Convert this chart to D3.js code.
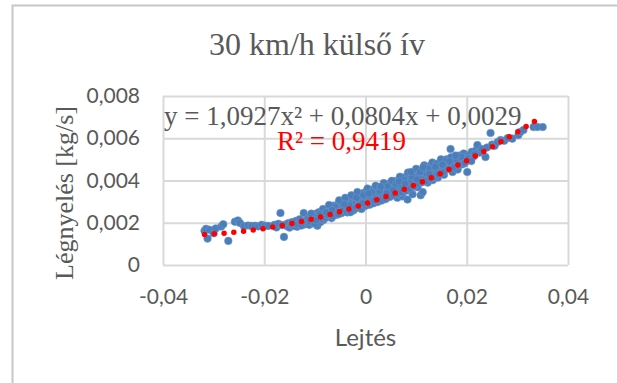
<!DOCTYPE html>
<html>
<head>
<meta charset="utf-8">
<script src="https://cdn.jsdelivr.net/npm/d3@7"></script>
<style>
    body { margin: 0; background: #fff; }
    #chart { width: 617px; height: 383px; overflow: hidden; }
</style>
</head>
<body>
<div id="chart"></div>
<script>
// tick values + labels (hungarian decimal comma)
var xTicks = [-0.04, -0.02, 0, 0.02, 0.04],
    xTickLabels = ["-0,04", "-0,02", "0", "0,02", "0,04"];
var yTicks = [0, 0.002, 0.004, 0.006, 0.008],
    yTickLabels = ["0", "0,002", "0,004", "0,006", "0,008"];

var chartTitle = "30 km/h külső ív",
    xTitle = "Lejtés",
    yTitle = "Légnyelés [kg/s]",
    eqText = "y = 1,0927x² + 0,0804x + 0,0029",
    r2Text = "R² = 0,9419";

// polynomial trendline from the chart label: a*x^2 + b*x + c
var trendCoef = [1.0927, 0.0804, 0.0029];
var trendRange = [-0.0318, 0.0346];

// measured points [lejtés, légnyelés]
var points = [
    [-0.0318, 0.00162], [-0.0315, 0.00171], [-0.0312, 0.00125], [-0.0308, 0.00167], [-0.0300, 0.00150],
    [-0.0296, 0.00173], [-0.0285, 0.00182], [-0.0281, 0.00193], [-0.0271, 0.00114], [-0.0258, 0.00205],
    [-0.0252, 0.00211], [-0.0248, 0.00199], [-0.0240, 0.00184], [-0.0232, 0.00187], [-0.0225, 0.00185],
    [-0.0218, 0.00186], [-0.0212, 0.00183], [-0.0205, 0.00190], [-0.0198, 0.00186], [-0.0192, 0.00185],
    [-0.0180, 0.00190], [-0.0176, 0.00178], [-0.0172, 0.00195], [-0.0168, 0.00246], [-0.0165, 0.00188],
    [-0.0161, 0.00133], [-0.0158, 0.00192], [-0.0155, 0.00184], [-0.0152, 0.00198], [-0.0150, 0.00177],
    [-0.0147, 0.00191], [-0.0145, 0.00203], [-0.0142, 0.00185], [-0.0140, 0.00196], [-0.0137, 0.00209],
    [-0.0135, 0.00181], [-0.0133, 0.00192], [-0.0130, 0.00216], [-0.0128, 0.00198], [-0.0126, 0.00187],
    [-0.0122, 0.00246], [-0.0121, 0.00205], [-0.0119, 0.00193], [-0.0117, 0.00213], [-0.0115, 0.00200],
    [-0.0113, 0.00222], [-0.0111, 0.00190], [-0.0108, 0.00231], [-0.0106, 0.00212], [-0.0104, 0.00198],
    [-0.0101, 0.00226], [-0.0099, 0.00207], [-0.0097, 0.00244], [-0.0095, 0.00186], [-0.0093, 0.00219],
    [-0.0091, 0.00233], [-0.0089, 0.00203], [-0.0087, 0.00252], [-0.0085, 0.00228], [-0.0083, 0.00213],
    [-0.0081, 0.00240], [-0.0079, 0.00262], [-0.0077, 0.00226], [-0.0075, 0.00248], [-0.0073, 0.00271],
    [-0.0071, 0.00236], [-0.0069, 0.00255], [-0.0067, 0.00222], [-0.0065, 0.00266], [-0.0063, 0.00281],
    [-0.0061, 0.00247], [-0.0059, 0.00262], [-0.0057, 0.00238], [-0.0055, 0.00276], [-0.0053, 0.00292],
    [-0.0051, 0.00258], [-0.0049, 0.00270], [-0.0047, 0.00249], [-0.0045, 0.00284], [-0.0043, 0.00301],
    [-0.0041, 0.00266], [-0.0039, 0.00279], [-0.0037, 0.00258], [-0.0035, 0.00293], [-0.0033, 0.00312],
    [-0.0031, 0.00274], [-0.0029, 0.00288], [-0.0027, 0.00266], [-0.0025, 0.00301], [-0.0023, 0.00322],
    [-0.0021, 0.00283], [-0.0019, 0.00296], [-0.0017, 0.00274], [-0.0015, 0.00310], [-0.0013, 0.00333],
    [-0.0011, 0.00291], [-0.0009, 0.00305], [-0.0007, 0.00282], [-0.0005, 0.00318], [-0.0003, 0.00342],
    [-0.0001, 0.00299], [0.0001, 0.00313], [0.0003, 0.00291], [0.0005, 0.00326], [0.0007, 0.00351],
    [0.0009, 0.00308], [0.0011, 0.00322], [0.0013, 0.00300], [0.0015, 0.00336], [0.0017, 0.00360],
    [0.0019, 0.00317], [0.0021, 0.00331], [0.0023, 0.00308], [0.0025, 0.00345], [0.0027, 0.00368],
    [0.0029, 0.00326], [0.0031, 0.00340], [0.0033, 0.00316], [0.0035, 0.00355], [0.0037, 0.00378],
    [0.0039, 0.00334], [0.0041, 0.00350], [0.0043, 0.00325], [0.0045, 0.00364], [0.0047, 0.00386],
    [0.0049, 0.00344], [0.0051, 0.00360], [0.0053, 0.00334], [0.0055, 0.00374], [0.0057, 0.00397],
    [0.0059, 0.00353], [0.0061, 0.00370], [0.0063, 0.00318], [0.0065, 0.00384], [0.0067, 0.00406],
    [0.0069, 0.00362], [0.0071, 0.00380], [0.0073, 0.00325], [0.0075, 0.00394], [0.0077, 0.00415],
    [0.0079, 0.00372], [0.0081, 0.00390], [0.0083, 0.00310], [0.0085, 0.00404], [0.0087, 0.00426],
    [0.0089, 0.00382], [0.0091, 0.00400], [0.0093, 0.00335], [0.0095, 0.00414], [0.0097, 0.00436],
    [0.0099, 0.00392], [0.0101, 0.00411], [0.0103, 0.00368], [0.0105, 0.00425], [0.0107, 0.00446],
    [0.0109, 0.00330], [0.0111, 0.00421], [0.0113, 0.00345], [0.0115, 0.00436], [0.0117, 0.00457],
    [0.0119, 0.00413], [0.0121, 0.00432], [0.0123, 0.00390], [0.0125, 0.00447], [0.0127, 0.00468],
    [0.0129, 0.00424], [0.0131, 0.00443], [0.0133, 0.00402], [0.0135, 0.00458], [0.0137, 0.00478],
    [0.0139, 0.00436], [0.0141, 0.00455], [0.0143, 0.00414], [0.0145, 0.00470], [0.0148, 0.00488],
    [0.0150, 0.00448], [0.0153, 0.00466], [0.0155, 0.00427], [0.0158, 0.00481], [0.0160, 0.00500],
    [0.0162, 0.00459], [0.0165, 0.00477], [0.0168, 0.00549], [0.0170, 0.00492], [0.0172, 0.00440],
    [0.0175, 0.00471], [0.0177, 0.00505], [0.0180, 0.00488], [0.0182, 0.00452], [0.0185, 0.00518],
    [0.0188, 0.00496], [0.0191, 0.00476], [0.0194, 0.00528], [0.0197, 0.00508], [0.0201, 0.00440],
    [0.0204, 0.00520], [0.0207, 0.00497], [0.0210, 0.00536], [0.0214, 0.00515], [0.0218, 0.00542],
    [0.0221, 0.00568], [0.0225, 0.00532], [0.0230, 0.00549], [0.0237, 0.00511], [0.0240, 0.00556],
    [0.0247, 0.00625], [0.0250, 0.00570], [0.0255, 0.00564], [0.0261, 0.00582], [0.0267, 0.00592],
    [0.0274, 0.00588], [0.0281, 0.00601], [0.0290, 0.00598], [0.0302, 0.00615], [0.0306, 0.00630],
    [0.0312, 0.00639], [0.0332, 0.00653], [0.0340, 0.00653], [0.0350, 0.00653],
    // second pass over the dense middle of the cloud
    [-0.0110, 0.00205], [-0.0107, 0.00243], [-0.0103, 0.00214], [-0.0100, 0.00196], [-0.0096, 0.00229],
    [-0.0092, 0.00250], [-0.0088, 0.00218], [-0.0084, 0.00265], [-0.0080, 0.00222], [-0.0076, 0.00238],
    [-0.0072, 0.00284], [-0.0068, 0.00242], [-0.0064, 0.00232], [-0.0060, 0.00275], [-0.0056, 0.00252],
    [-0.0052, 0.00306], [-0.0048, 0.00245], [-0.0044, 0.00262], [-0.0040, 0.00318], [-0.0036, 0.00249],
    [-0.0032, 0.00282], [-0.0028, 0.00330], [-0.0024, 0.00258], [-0.0020, 0.00268], [-0.0016, 0.00345],
    [-0.0012, 0.00272], [-0.0008, 0.00265], [-0.0004, 0.00330], [0.0000, 0.00280], [0.0004, 0.00362],
    [0.0008, 0.00285], [0.0012, 0.00345], [0.0016, 0.00292], [0.0020, 0.00375], [0.0024, 0.00298],
    [0.0028, 0.00352], [0.0032, 0.00305], [0.0036, 0.00388], [0.0040, 0.00312], [0.0044, 0.00372],
    [0.0048, 0.00322], [0.0052, 0.00398], [0.0056, 0.00330], [0.0060, 0.00382], [0.0064, 0.00338],
    [0.0068, 0.00418], [0.0072, 0.00345], [0.0076, 0.00402], [0.0080, 0.00352], [0.0084, 0.00438],
    [0.0088, 0.00362], [0.0092, 0.00418], [0.0096, 0.00372], [0.0100, 0.00455], [0.0104, 0.00385],
    [0.0108, 0.00440], [0.0112, 0.00392], [0.0116, 0.00472], [0.0120, 0.00398], [0.0124, 0.00455],
    [0.0128, 0.00410], [0.0132, 0.00485], [0.0136, 0.00418], [0.0140, 0.00478], [0.0144, 0.00428],
    [0.0149, 0.00500], [0.0154, 0.00440], [0.0159, 0.00492], [0.0164, 0.00455], [0.0169, 0.00510],
    [0.0174, 0.00462], [0.0179, 0.00500], [0.0184, 0.00475], [0.0189, 0.00512], [0.0196, 0.00482],
    [0.0203, 0.00505], [0.0209, 0.00492], [0.0216, 0.00525],
    [-0.0098, 0.00212], [-0.0090, 0.00240], [-0.0078, 0.00250], [-0.0066, 0.00260], [-0.0054, 0.00240],
    [-0.0042, 0.00287], [-0.0030, 0.00250], [-0.0018, 0.00318], [-0.0006, 0.00292], [0.0006, 0.00338],
    [0.0018, 0.00305], [0.0030, 0.00370], [0.0042, 0.00340], [0.0054, 0.00355], [0.0066, 0.00395],
    [0.0078, 0.00385], [0.0090, 0.00440], [0.0102, 0.00405], [0.0114, 0.00462], [0.0126, 0.00430],
    [0.0138, 0.00465], [0.0152, 0.00475], [0.0166, 0.00490], [0.0178, 0.00518]
];

var width = 617,
    height = 383;

var svg = d3.select("#chart").append("svg")
    .attr("width", width)
    .attr("height", height);

// outer chart frame (runs off the right / bottom edge)
svg.append("rect")
    .attr("x", 12.5)
    .attr("y", 5.5)
    .attr("width", 640)
    .attr("height", 420)
    .attr("fill", "#fff")
    .attr("stroke", "#c8c8c8")
    .attr("stroke-width", 2);

// plot area
var plotLeft = 163, plotRight = 568, plotTop = 96, plotBottom = 265;

var xScale = d3.scaleLinear()
    .domain([-0.04, 0.04])
    .range([plotLeft, plotRight]);
var yScale = d3.scaleLinear()
    .domain([0, 0.008])
    .range([plotBottom, plotTop]);

var sans = "Lato, 'Open Sans', sans-serif",
    serif = "'Liberation Serif', 'DejaVu Serif', serif",
    textGrey = "#595959";

// x axis with vertical gridlines
var gx = svg.append("g")
    .attr("transform", "translate(0," + plotBottom + ")")
    .call(d3.axisBottom(xScale)
        .tickValues(xTicks)
        .tickFormat(function (d, i) { return xTickLabels[i]; })
        .tickSize(-(plotBottom - plotTop))
        .tickPadding(24));
gx.select(".domain").remove();
gx.selectAll("line").attr("stroke", "#d9d9d9").attr("stroke-width", 2);
gx.selectAll("text")
    .attr("font-family", sans)
    .attr("font-size", 21)
    .attr("fill", textGrey);

// y axis with horizontal gridlines
var gy = svg.append("g")
    .attr("transform", "translate(" + plotLeft + ",0)")
    .call(d3.axisLeft(yScale)
        .tickValues(yTicks)
        .tickFormat(function (d, i) { return yTickLabels[i]; })
        .tickSize(-(plotRight - plotLeft))
        .tickPadding(23));
gy.select(".domain").remove();
gy.selectAll("line").attr("stroke", "#d9d9d9").attr("stroke-width", 2);
gy.selectAll("text")
    .attr("font-family", sans)
    .attr("font-size", 21)
    .attr("fill", textGrey);

// scatter points
svg.append("g")
    .selectAll("circle")
    .data(points)
    .join("circle")
    .attr("cx", function (d) { return xScale(d[0]); })
    .attr("cy", function (d) { return yScale(d[1]); })
    .attr("r", 3.8)
    .attr("fill", "#4a7ebb")
    .attr("stroke", "#6b95c8")
    .attr("stroke-width", 0.6);

// dotted polynomial trendline
var trendData = d3.range(trendRange[0], trendRange[1] + 0.00001, 0.0005).map(function (x) {
    return [x, trendCoef[0] * x * x + trendCoef[1] * x + trendCoef[2]];
});
var line_generator = d3.line()
    .x(function (d) { return xScale(d[0]); })
    .y(function (d) { return yScale(d[1]); });
svg.append("path")
    .attr("d", line_generator(trendData))
    .attr("fill", "none")
    .attr("stroke", "#ff0000")
    .attr("stroke-width", 5.5)
    .attr("stroke-linecap", "round")
    .attr("stroke-dasharray", "0 9.8");

// title
svg.append("text")
    .attr("x", 317)
    .attr("y", 55)
    .attr("text-anchor", "middle")
    .attr("font-family", serif)
    .attr("font-size", 32)
    .attr("fill", textGrey)
    .text(chartTitle);

// trendline equation + R²
svg.append("text")
    .attr("x", 164)
    .attr("y", 125)
    .attr("font-family", serif)
    .attr("font-size", 27)
    .attr("fill", textGrey)
    .text(eqText);
svg.append("text")
    .attr("x", 277)
    .attr("y", 150)
    .attr("font-family", serif)
    .attr("font-size", 27)
    .attr("fill", "#ff0000")
    .text(r2Text);

// axis titles
svg.append("text")
    .attr("x", 365.5)
    .attr("y", 346)
    .attr("text-anchor", "middle")
    .attr("font-family", sans)
    .attr("font-size", 24)
    .attr("fill", textGrey)
    .text(xTitle);
svg.append("text")
    .attr("transform", "translate(73,193) rotate(-90)")
    .attr("text-anchor", "middle")
    .attr("font-family", serif)
    .attr("font-size", 26)
    .attr("fill", textGrey)
    .text(yTitle);
</script>
</body>
</html>
